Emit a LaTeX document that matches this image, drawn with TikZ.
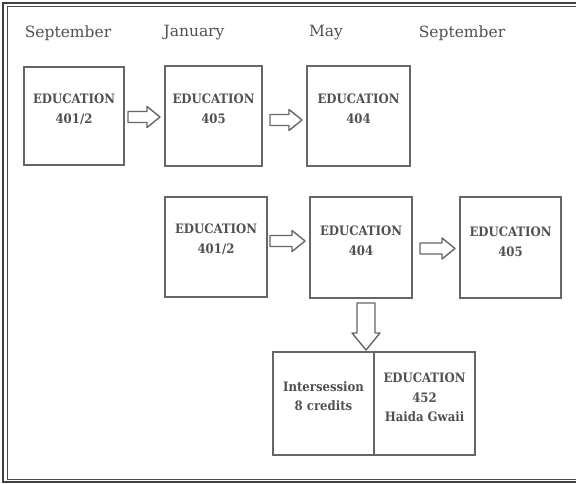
\documentclass[tikz,border=0pt]{standalone}
\usepackage{fontspec}
\setmainfont{DejaVu Serif}
\newfontfamily\boxfont{DejaVu Serif Condensed}
\usetikzlibrary{calc,shadows}
\definecolor{txtgray}{HTML}{505050}
\definecolor{linegray}{HTML}{666666}
\tikzset{
  box/.style={draw=linegray, line width=1.4pt, fill=white, inner sep=0pt, outer sep=0pt,
    drop shadow={shadow xshift=1pt, shadow yshift=-1.2pt, opacity=0.25}},
  month/.style={text=txtgray, font=\fontsize{15.5}{18}\selectfont, inner sep=0pt},
  btxt/.style={text=txtgray, font=\boxfont\bfseries\fontsize{13}{19.5}\selectfont, align=center, inner sep=0pt, anchor=north},
  barrow/.style={draw=linegray, line width=1.4pt, fill=white, line join=round}
}
\newcommand\harrow[2]{%
  \draw[barrow] let \p1=(#1), \p2=(#2) in
    (\x1,\y1+5.5) -- (\x2-13,\y1+5.5) -- (\x2-13,\y1+10.5) -- (\x2,\y1) --
    (\x2-13,\y1-10.5) -- (\x2-13,\y1-5.5) -- (\x1,\y1-5.5) -- cycle;}
\begin{document}
\begin{tikzpicture}[x=1pt,y=-1pt]
\useasboundingbox (0,0) rectangle (576,484);
\begin{scope}
\clip (0,0) rectangle (576,484);
\draw[line width=1.6pt, draw=black!75] (600,3.2) -- (3.2,3.2) -- (3.2,481.8) -- (600,481.8);
\draw[line width=1pt, draw=black!70] (600,6.8) -- (7,6.8) -- (7,479) -- (600,479);
\end{scope}
% months
\node[month] (m1) at (68,33) {September};
\node[month] (m2) at (194,33) {January};
\node[month] (m3) at (326,33) {May};
\node[month] (m4) at (462,33) {September};
% row 1
\node[box, minimum width=100pt, minimum height=98pt] (a) at (74,116) {};
\node[box, minimum width=97pt, minimum height=100pt] (b) at (213.5,116) {};
\node[box, minimum width=103pt, minimum height=100pt] (c) at (358.5,116) {};
% row 2
\node[box, minimum width=102pt, minimum height=100pt] (d) at (216,247) {};
\node[box, minimum width=102pt, minimum height=101pt] (e) at (361,247.5) {};
\node[box, minimum width=101pt, minimum height=101pt] (f) at (510.5,247.5) {};
% bottom
\node[box, minimum width=101pt, minimum height=103pt] (g) at (323.5,403.5) {};
\node[box, minimum width=101pt, minimum height=103pt] (h) at (424.5,403.5) {};
% texts
\node[btxt] (ta) at (74,94) {EDUCATION\\401/2};
\node[btxt] (tb) at (213.5,94) {EDUCATION\\405};
\node[btxt] (tc) at (358.5,94) {EDUCATION\\404};
\node[btxt] (td) at (216,224) {EDUCATION\\401/2};
\node[btxt] (te) at (361,226) {EDUCATION\\404};
\node[btxt] (tf) at (510.5,227) {EDUCATION\\405};
\node[btxt] (tg) at (323.5,381) {Intersession\\8 credits};
\node[btxt] (th) at (424.5,373) {EDUCATION\\452\\Haida Gwaii};
% arrows
\coordinate (a1) at ($(a.east)+(4,1)$);
\coordinate (a2) at ($(b.west)+(-5,1)$);
\harrow{a1}{a2}
\coordinate (b1) at ($(b.east)+(8,4)$);
\coordinate (b2) at ($(c.west)+(-5,4)$);
\harrow{b1}{b2}
\coordinate (d1) at ($(d.east)+(3,-6)$);
\coordinate (d2) at ($(e.west)+(-5,-6)$);
\harrow{d1}{d2}
\coordinate (e1) at ($(e.east)+(8,1)$);
\coordinate (e2) at ($(f.west)+(-5,1)$);
\harrow{e1}{e2}
% down arrow
\coordinate (v1) at ($(e.south)+(5,5)$);
\coordinate (v2) at ($(g.north east)+(-8,-2)$);
\draw[barrow] let \p1=(v1), \p2=(v2) in
  (\x1-9,\y1) -- (\x1-9,\y2+17) -- (\x1-14,\y2+17) -- (\x1,\y2) --
  (\x1+14,\y2+17) -- (\x1+9,\y2+17) -- (\x1+9,\y1) -- cycle;
\end{tikzpicture}
\end{document}
